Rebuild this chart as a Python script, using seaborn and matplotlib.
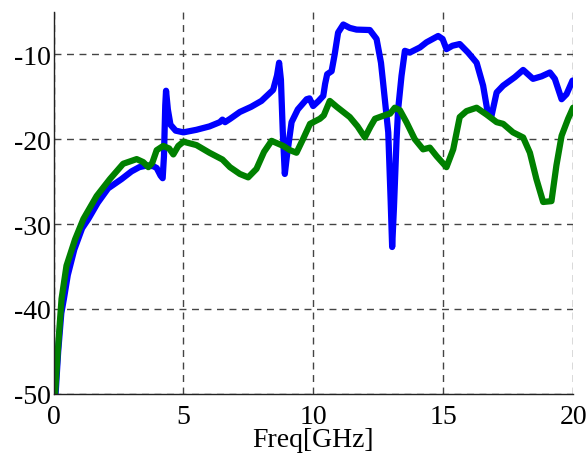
import matplotlib
matplotlib.use("Agg")
import matplotlib.pyplot as plt
import seaborn as sns
import pandas as pd

# blue trace
blue_x = [0.08, 0.18, 0.3, 0.4, 0.55, 0.8, 1.1, 1.34, 1.7, 2.1, 2.62, 3.0, 3.3, 3.6,
          3.85, 3.97, 4.12, 4.2, 4.25, 4.3, 4.33, 4.4, 4.5, 4.7, 5.0, 5.5, 6.0, 6.4,
          6.5, 6.6, 6.8, 7.17, 7.6, 8.0, 8.45, 8.6, 8.68, 8.75, 8.82, 8.9, 8.98, 9.16,
          9.4, 9.74, 9.85, 9.99, 10.2, 10.38, 10.45, 10.53, 10.7, 10.82, 10.95, 11.15,
          11.4, 11.66, 12.17, 12.43, 12.6, 12.68, 12.88, 12.97, 13.03, 13.1, 13.2,
          13.26, 13.39, 13.52, 13.71, 14.1, 14.35, 14.8, 14.97, 15.12, 15.35, 15.63,
          15.95, 16.28, 16.53, 16.72, 16.85, 17.05, 17.3, 17.75, 18.07, 18.45, 18.78,
          19.1, 19.29, 19.55, 19.74, 19.97]
blue_y = [-50, -45, -40.5, -38.8, -36, -33, -30.5, -29.4, -27.5, -25.8, -24.7, -23.8,
          -23.3, -23.1, -23.2, -23.4, -24.3, -24.6, -22, -16, -14.3, -16.5, -18.3, -19.0,
          -19.2, -18.9, -18.5, -18.0, -17.7, -18.0, -17.6, -16.8, -16.2, -15.5, -14.2,
          -12.5, -11.0, -13, -19, -24.1, -22, -18.0, -16.5, -15.3, -15.2, -16.1, -15.5,
          -14.9, -13.5, -12.35, -12.0, -10, -7.45, -6.5, -6.9, -7.1, -7.15, -8.2, -11,
          -13.3, -19.2, -27, -32.7, -28, -20, -16.5, -12.55, -9.6, -9.8, -9.2, -8.6,
          -7.85, -8.2, -9.4, -9.0, -8.8, -9.8, -11.0, -13.7, -17.1, -17.3, -14.5, -13.7,
          -12.7, -11.85, -12.9, -12.6, -12.15, -12.9, -15.3, -14.7, -13.1]

# green trace
green_x = [0.06, 0.18, 0.31, 0.5, 0.83, 1.15, 1.66, 2.17, 2.68, 3.2, 3.45, 3.65, 3.8,
           3.97, 4.22, 4.45, 4.61, 4.8, 5.0, 5.5, 6.0, 6.5, 6.79, 7.17, 7.49, 7.81, 8.1,
           8.39, 8.84, 9.1, 9.35, 9.6, 9.87, 10.25, 10.4, 10.63, 10.9, 11.4, 11.7, 11.98,
           12.2, 12.37, 12.82, 12.95, 13.13, 13.33, 13.58, 13.9, 14.22, 14.48, 14.74,
           15.12, 15.38, 15.63, 15.89, 16.28, 16.66, 17.05, 17.3, 17.68, 18.07, 18.33,
           18.58, 18.84, 19.16, 19.35, 19.55, 19.8, 19.99]
green_y = [-50, -44.3, -38.8, -34.9, -31.8, -29.4, -26.7, -24.7, -22.9, -22.35, -22.7,
           -23.3, -22.8, -21.3, -20.8, -21.1, -21.8, -20.8, -20.3, -20.7, -21.6, -22.4,
           -23.3, -24.1, -24.5, -23.5, -21.5, -20.2, -20.8, -21.3, -21.6, -20, -18.2,
           -17.6, -17.2, -15.5, -16.2, -17.4, -18.5, -19.8, -18.5, -17.6, -17.1, -17,
           -16.3, -16.6, -18.0, -20.0, -21.2, -21.0, -22.0, -23.3, -21.2, -17.4, -16.7,
           -16.3, -17.1, -18.0, -18.2, -19.2, -19.8, -21.6, -24.7, -27.4, -27.3, -23.1,
           -19.6, -17.6, -16.3]

x_ticks = [0, 5, 10, 15, 20]
y_ticks = [-50, -40, -30, -20, -10]

sns.set_style("white")
plt.rcParams['font.family'] = ['Liberation Serif', 'DejaVu Serif']
plt.rcParams['axes.unicode_minus'] = False

fig = plt.figure(figsize=(5.88, 4.56), dpi=100)
ax = fig.add_axes([0.091, 0.134, 0.884, 0.838])

blue = pd.DataFrame({'f': blue_x, 's': blue_y})
green = pd.DataFrame({'f': green_x, 's': green_y})
sns.lineplot(data=blue, x='f', y='s', ax=ax, color='#0000ff', linewidth=4.5, sort=False,
             solid_joinstyle='round', solid_capstyle='round')
sns.lineplot(data=green, x='f', y='s', ax=ax, color='#008000', linewidth=4.5, sort=False,
             solid_joinstyle='round', solid_capstyle='round')

ax.set_xlim(0, 20)
ax.set_ylim(-50, -5)
ax.set_xticks(x_ticks)
ax.set_yticks(y_ticks)
ax.grid(True, color='#444444', linestyle=(0, (5, 4)), linewidth=1)
ax.set_axisbelow(True)
for side in ['top', 'right']:
    ax.spines[side].set_visible(False)
for side in ['left', 'bottom']:
    ax.spines[side].set_color('#222222')
    ax.spines[side].set_linewidth(1)
ax.tick_params(direction='in', length=4, width=1, labelsize=20, colors='black')
ax.tick_params(axis='x', pad=7)
ax.tick_params(axis='y', pad=2)
ax.set_xlabel('Freq[GHz]', fontsize=20, labelpad=-1, color='black')
ax.set_ylabel('')

fig.savefig('out.png', dpi=100)
